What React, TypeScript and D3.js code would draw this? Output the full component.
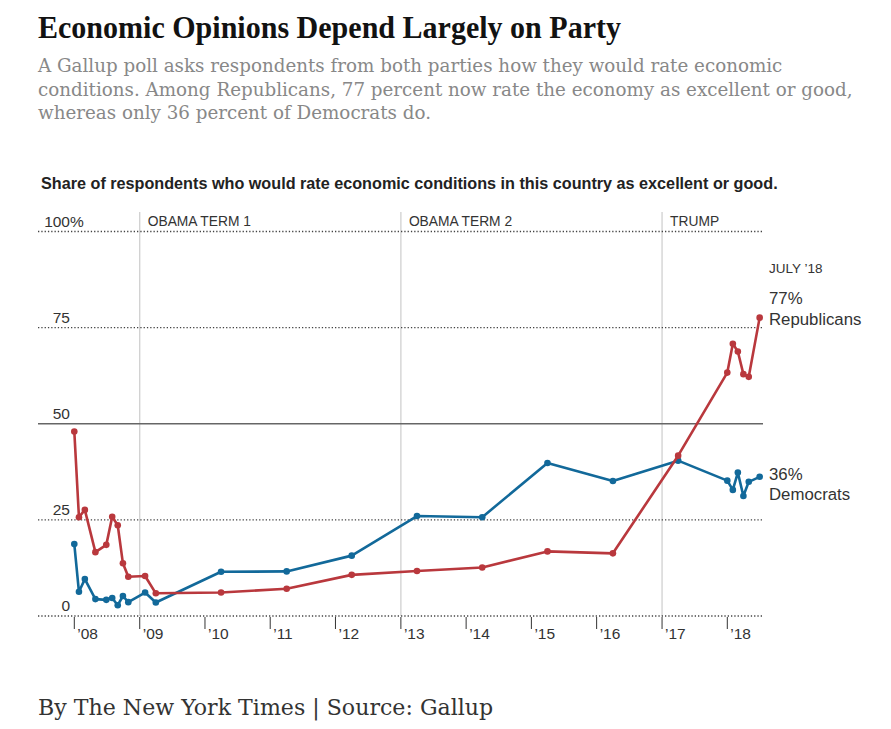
import React from "react";
import * as d3 from "d3";

const dates = [
  "2008-01-01", "2008-01-27", "2008-02-29", "2008-04-28", "2008-06-28",
  "2008-07-31", "2008-08-31", "2008-09-29", "2008-10-29", "2009-01-31",
  "2009-04-01", "2010-04-01", "2011-04-03", "2012-04-01", "2013-04-01",
  "2014-04-01", "2015-04-01", "2016-04-01", "2017-04-01", "2018-01-01",
  "2018-02-01", "2018-03-01", "2018-04-01", "2018-05-01", "2018-07-01",
];
const republicans = [
  48, 25.7, 27.6, 16.6, 18.5, 25.8, 23.6, 13.7, 10.2, 10.4, 5.9, 6.1, 7.1,
  10.7, 11.7, 12.6, 16.8, 16.3, 41.7, 63.3, 70.8, 68.8, 62.9, 62.2, 77.6,
];
const democrats = [
  18.7, 6.3, 9.6, 4.4, 4.2, 4.7, 2.8, 5.2, 3.6, 6.1, 3.5, 11.5, 11.6, 15.7,
  26.0, 25.7, 39.8, 35.1, 40.4, 35.2, 32.8, 37.3, 31.2, 34.9, 36.2,
];
const yTicks = [0, 25, 50, 75, 100];
const yearTicks = [2008, 2009, 2010, 2011, 2012, 2013, 2014, 2015, 2016, 2017, 2018];
const eras = [
  { label: "OBAMA TERM 1", year: 2009 },
  { label: "OBAMA TERM 2", year: 2013 },
  { label: "TRUMP", year: 2017 },
];
const title = "Economic Opinions Depend Largely on Party";
const subtitleLines = [
  "A Gallup poll asks respondents from both parties how they would rate economic",
  "conditions. Among Republicans, 77 percent now rate the economy as excellent or good,",
  "whereas only 36 percent of Democrats do.",
];
const chartLabel =
  "Share of respondents who would rate economic conditions in this country as excellent or good.";
const footer = "By The New York Times | Source: Gallup";

const RED = "#b9383d";
const BLUE = "#12699a";

export default function App() {
  const parse = d3.timeParse("%Y-%m-%d");
  const x = d3
    .scaleTime()
    .domain([new Date(2008, 0, 1), new Date(2018, 0, 1)])
    .range([74.3, 727.3]);
  const y = d3.scaleLinear().domain([0, 100]).range([616, 231.5]);
  const pts = (vals: number[]) =>
    dates.map((d, i) => ({ d: parse(d) as Date, v: vals[i] }));
  const line = d3
    .line<{ d: Date; v: number }>()
    .x((p) => x(p.d))
    .y((p) => y(p.v));
  const series = [
    { name: "dem", color: BLUE, data: pts(democrats) },
    { name: "rep", color: RED, data: pts(republicans) },
  ];
  const gx0 = 38;
  const gx1 = 763;
  const sans = "'Liberation Sans', Arial, sans-serif";
  const serif = "'DejaVu Serif', Georgia, serif";

  return (
    <div style={{ position: "fixed", left: 0, top: 0 }}>
      <svg width={891} height={729} style={{ display: "block", background: "#fff" }}>
        <text
          x={38}
          y={38}
          fontFamily="'Liberation Serif', serif"
          fontWeight="bold"
          fontSize={32}
          fill="#121212"
          textLength={583}
          lengthAdjust="spacingAndGlyphs"
        >
          {title}
        </text>
        {subtitleLines.map((s, i) => (
          <text key={i} x={38} y={72 + i * 23.5} fontFamily={serif} fontSize={18.3} fill="#888">
            {s}
          </text>
        ))}
        <text x={41} y={189} fontFamily={sans} fontWeight="bold" fontSize={16.2} fill="#222">
          {chartLabel}
        </text>

        {/* era lines */}
        {eras.map((e) => (
          <g key={e.label}>
            <line x1={x(new Date(e.year, 0, 1))} x2={x(new Date(e.year, 0, 1))} y1={212} y2={616} stroke="#ccc" strokeWidth={1.2} />
            <text x={x(new Date(e.year, 0, 1)) + 8} y={226} fontFamily={sans} fontSize={13.8} fill="#333">
              {e.label}
            </text>
          </g>
        ))}

        {/* gridlines */}
        {yTicks.map((t) => (
          <g key={t}>
            {t === 50 ? (
              <line x1={gx0} x2={gx1} y1={y(t)} y2={y(t)} stroke="#666" strokeWidth={1.5} />
            ) : (
              <line x1={gx0} x2={gx1} y1={y(t)} y2={y(t)} stroke="#444" strokeWidth={1.3} strokeDasharray="1.3,2" />
            )}
            <text x={70} y={y(t) - 5} textAnchor="end" fontFamily={sans} fontSize={15.5} fill="#333">
              {t}
            </text>
            {t === 100 && (
              <text x={70} y={y(t) - 5} fontFamily={sans} fontSize={15.5} fill="#333">
                %
              </text>
            )}
          </g>
        ))}

        {/* x ticks */}
        {yearTicks.map((yr) => {
          const xx = x(new Date(yr, 0, 1));
          return (
            <g key={yr}>
              <line x1={xx} x2={xx} y1={617} y2={629} stroke="#333" strokeWidth={1} />
              <text x={xx + 3} y={639} fontFamily={sans} fontSize={15.5} fill="#333">
                {"\u2019" + String(yr).slice(2)}
              </text>
            </g>
          );
        })}

        {series.map((s) => (
          <g key={s.name}>
            <path d={line(s.data) || ""} fill="none" stroke={s.color} strokeWidth={2.6} strokeLinejoin="round" />
            {s.data.map((p, i) => (
              <circle key={i} cx={x(p.d)} cy={y(p.v)} r={3.3} fill={s.color} />
            ))}
          </g>
        ))}

        {/* end labels */}
        <text x={769} y={273} fontFamily={sans} fontSize={13.5} fill="#333">JULY ’18</text>
        <text x={769} y={304} fontFamily={sans} fontSize={16.8} fill="#333">77%</text>
        <text x={769} y={325} fontFamily={sans} fontSize={16.8} fill="#333">Republicans</text>
        <text x={769} y={480} fontFamily={sans} fontSize={16.8} fill="#333">36%</text>
        <text x={769} y={500} fontFamily={sans} fontSize={16.8} fill="#333">Democrats</text>

        <text x={38} y={715} fontFamily={serif} fontSize={22.1} fill="#333">
          {footer}
        </text>
      </svg>
    </div>
  );
}
